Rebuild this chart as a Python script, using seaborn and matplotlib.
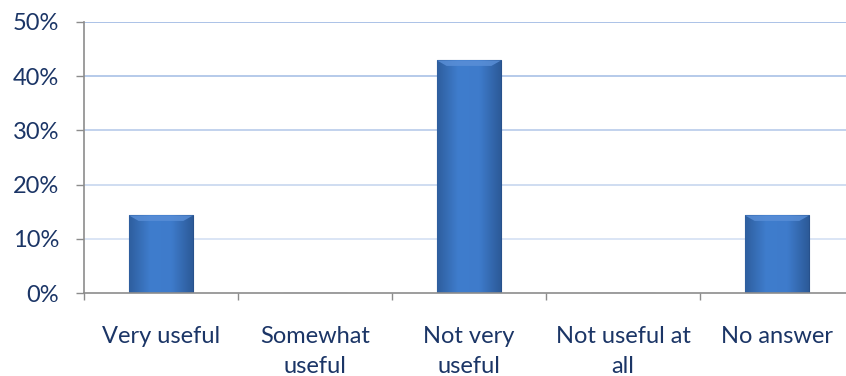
import numpy as np
import pandas as pd
import matplotlib
matplotlib.use("Agg")
import matplotlib.pyplot as plt
import seaborn as sns
from matplotlib.colors import LinearSegmentedColormap

categories = ["Very useful", "Somewhat\nuseful", "Not very\nuseful", "Not useful at\nall", "No answer"]
values = [0.143, 0.0, 0.429, 0.0, 0.143]
y_ticks = [0.0, 0.1, 0.2, 0.3, 0.4, 0.5]
y_tick_labels = ["0%", "10%", "20%", "30%", "40%", "50%"]

sns.set_theme(style="white")
plt.rcParams['font.family'] = ['Lato', 'DejaVu Sans']

text_color = "#1B3566"
df = pd.DataFrame({"category": categories, "value": values})

fig = plt.figure(figsize=(8.46, 3.76), dpi=100)
ax = fig.add_axes([84/846, 1-293/376, (854-84)/846, (293-22)/376])

sns.barplot(data=df, x="category", y="value", color="#3A74C4", width=0.415,
            edgecolor="#27518C", linewidth=0.8, saturation=1, ax=ax, zorder=3)

# gradient fill for bars
cmap = LinearSegmentedColormap.from_list("bar", ["#2E5E9E", "#3F7DCD", "#3E7BCB", "#2C5A98"])
grad = np.linspace(0, 1, 256).reshape(1, -1)
for p in ax.patches:
    if p.get_height() <= 0:
        continue
    x0, y0 = p.get_x(), p.get_y()
    w, h = p.get_width(), p.get_height()
    im = ax.imshow(grad, cmap=cmap, extent=[x0, x0 + w, y0, y0 + h], aspect="auto", zorder=3.5)
    im.set_clip_path(p)
    # top bevel highlight
    ax.fill([x0, x0 + w, x0 + w * 0.85, x0 + w * 0.15],
            [y0 + h, y0 + h, y0 + h - 0.01, y0 + h - 0.01],
            color="#5B90D8", alpha=0.8, zorder=3.6, lw=0)

ax.set_xlim(-0.5, 4.5)
ax.set_ylim(0, 0.5)
ax.set_xlabel("")
ax.set_ylabel("")

ax.set_yticks(y_ticks)
ax.set_yticklabels(y_tick_labels)
grid_colors = ["#DCE6F4", "#D8E3F4", "#CBDAF0", "#BDCFEC", "#B0C6E8", "#A5BDE5"]
for yv, gc in zip(y_ticks[1:], grid_colors[1:]):
    ax.axhline(yv, color=gc, lw=1.3, zorder=1)

ax.set_xticks(range(len(categories)))
ax.set_xticklabels(categories)
ax.set_xticks(np.arange(-0.5, 5.0, 1.0), minor=True)
ax.tick_params(axis="x", which="major", length=0, pad=24, labelsize=17, labelcolor=text_color)
ax.tick_params(axis="x", which="minor", length=5, width=1, color="#8C8C8C", direction="out", bottom=True)
ax.tick_params(axis="y", which="major", length=6, width=1, color="#8C8C8C", direction="out",
               left=True, pad=12, labelsize=17, labelcolor=text_color)
for lbl in ax.get_xticklabels():
    lbl.set_linespacing(1.5)

for s in ["top", "right"]:
    ax.spines[s].set_visible(False)
for s in ["left", "bottom"]:
    ax.spines[s].set_color("#8C8C8C")
    ax.spines[s].set_linewidth(1.2)
    ax.spines[s].set_zorder(4)

fig.savefig("out.png", dpi=100)
